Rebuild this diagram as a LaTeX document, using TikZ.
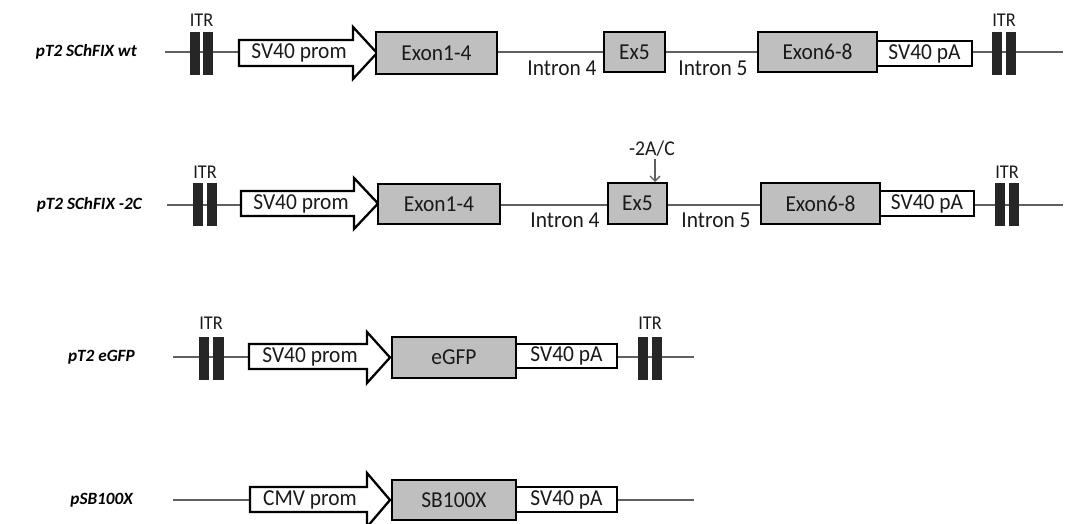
\documentclass[tikz,border=0pt]{standalone}
\usepackage{fontspec}
\setmainfont{Carlito}
\newfontfamily\diafont{Carlito}[FakeStretch=0.94]
\usetikzlibrary{arrows.meta}
\definecolor{exongray}{HTML}{BFBFBF}
\definecolor{itrdark}{HTML}{262626}
\definecolor{linegray}{HTML}{606060}
\definecolor{txt}{HTML}{1A1A1A}
\begin{document}
\begin{tikzpicture}[x=1pt,y=-1pt,
  txtfont/.style={font=\diafont\fontsize{22.8}{24}\selectfont, text=txt},
  backbone/.style={draw=linegray, line width=1.4pt},
  bb/.style={draw=black, line width=2.3pt, inner sep=0pt, txtfont},
  exon/.style={bb, fill=exongray},
  pa/.style={bb, fill=white},
  prom/.style={draw=black, line width=2.3pt, fill=white, line join=miter},
  itr/.style={fill=itrdark, draw=none, minimum width=10.5pt, minimum height=43pt, inner sep=0pt},
  itrlab/.style={font=\diafont\fontsize{19.5}{20}\selectfont, text=txt},
  rowlab/.style={font=\fontsize{17.2}{20}\selectfont\bfseries\itshape, text=black, anchor=east, inner sep=0pt},
  intr/.style={txtfont, inner sep=0pt},
  mut/.style={draw=linegray, line width=1.3pt, -{Straight Barb[length=5pt,width=10pt]}}
]
\useasboundingbox (0,0) rectangle (1067,523);

% ---------------- Row 1: pT2 SChFIX wt ----------------
\node[rowlab] (lab1) at (137,52) {pT2 SChFIX wt};
\coordinate (r1s) at (165,52);
\coordinate (r1e) at (1063,52);
\draw[backbone] (r1s) -- (r1e);
\node[itr] (r1ia) at (195,53.5) {};
\node[itr] (r1ib) at (208,53.5) {};
\node[itrlab] (r1il) at (201.5,20) {ITR};
\draw[prom] (239,40) -- (353,40) -- (353,27) -- (377,53) -- (353,79) -- (353,66) -- (239,66) -- cycle;
\node[intr] (r1p) at (299,53) {SV40 prom};
\node[exon, minimum width=121pt, minimum height=42pt] (r1e14) at (436.5,53) {Exon1-4};
\node[intr] (r1i4) at (562,68) {Intron 4};
\node[exon, minimum width=61pt, minimum height=40pt] (r1e5) at (634.5,52) {Ex5};
\node[intr] (r1i5) at (713,68) {Intron 5};
\node[exon, minimum width=119pt, minimum height=40pt] (r1e68) at (817.5,52) {Exon6-8};
\node[pa, minimum width=95pt, minimum height=25pt] (r1pa) at (924.5,53.5) {SV40 pA};
\node[itr] (r1ic) at (997,53) {};
\node[itr] (r1id) at (1011,53) {};
\node[itrlab] (r1jl) at (1004,20) {ITR};

% ---------------- Row 2: pT2 SChFIX -2C ----------------
\node[rowlab] (lab2) at (142,205) {pT2 SChFIX -2C};
\coordinate (r2s) at (167,205);
\coordinate (r2e) at (1063,205);
\draw[backbone] (r2s) -- (r2e);
\node[itr] (r2ia) at (198,204) {};
\node[itr] (r2ib) at (212,204) {};
\node[itrlab] (r2il) at (205,172) {ITR};
\draw[prom] (241,191) -- (354,191) -- (354,178) -- (378,203.5) -- (354,229) -- (354,216) -- (241,216) -- cycle;
\node[intr] (r2p) at (301,203.5) {SV40 prom};
\node[exon, minimum width=122pt, minimum height=40pt] (r2e14) at (439,204) {Exon1-4};
\node[intr] (r2i4) at (565,220) {Intron 4};
\node[exon, minimum width=59pt, minimum height=41pt] (r2e5) at (637.5,203.5) {Ex5};
\node[font=\diafont\fontsize{21}{22}\selectfont, text=txt, inner sep=0pt] (r2m) at (652,149) {-2A/C};
\coordinate (r2mt) at (655,182);
\draw[mut] (r2m.south -| r2mt) ++(0,2) -- (r2mt);
\node[intr] (r2i5) at (716,220) {Intron 5};
\node[exon, minimum width=119pt, minimum height=41pt] (r2e68) at (820.5,203.5) {Exon6-8};
\node[pa, minimum width=94pt, minimum height=25pt] (r2pa) at (927,203.5) {SV40 pA};
\node[itr] (r2ic) at (1000,204) {};
\node[itr] (r2id) at (1014,204) {};
\node[itrlab] (r2jl) at (1007,172) {ITR};

% ---------------- Row 3: pT2 eGFP ----------------
\node[rowlab] (lab3) at (135,357) {pT2 eGFP};
\coordinate (r3s) at (173,357);
\coordinate (r3e) at (694,357);
\draw[backbone] (r3s) -- (r3e);
\node[itr] (r3ia) at (204,358) {};
\node[itr] (r3ib) at (218.5,358) {};
\node[itrlab] (r3il) at (211,323) {ITR};
\draw[prom] (249,344) -- (367,344) -- (367,332) -- (390,357.5) -- (367,383) -- (367,369) -- (249,369) -- cycle;
\node[intr] (r3p) at (310,356.5) {SV40 prom};
\node[exon, minimum width=124pt, minimum height=41pt] (r3eg) at (454,357.5) {eGFP};
\node[pa, minimum width=101pt, minimum height=24pt] (r3pa) at (566.5,356) {SV40 pA};
\node[itr] (r3ic) at (643,358) {};
\node[itr] (r3id) at (657,358) {};
\node[itrlab] (r3jl) at (650,323) {ITR};

% ---------------- Row 4: pSB100X ----------------
\node[rowlab] (lab4) at (133,500) {pSB100X};
\coordinate (r4s) at (173,500);
\coordinate (r4e) at (694,500);
\draw[backbone] (r4s) -- (r4e);
\draw[prom] (250,487) -- (367,487) -- (367,473) -- (390,500) -- (367,527) -- (367,512) -- (250,512) -- cycle;
\node[intr] (r4p) at (310,499.5) {CMV prom};
\node[exon, minimum width=124pt, minimum height=40pt] (r4sb) at (454,500) {SB100X};
\node[pa, minimum width=101pt, minimum height=25pt] (r4pa) at (566.5,499.5) {SV40 pA};
\end{tikzpicture}
\end{document}
